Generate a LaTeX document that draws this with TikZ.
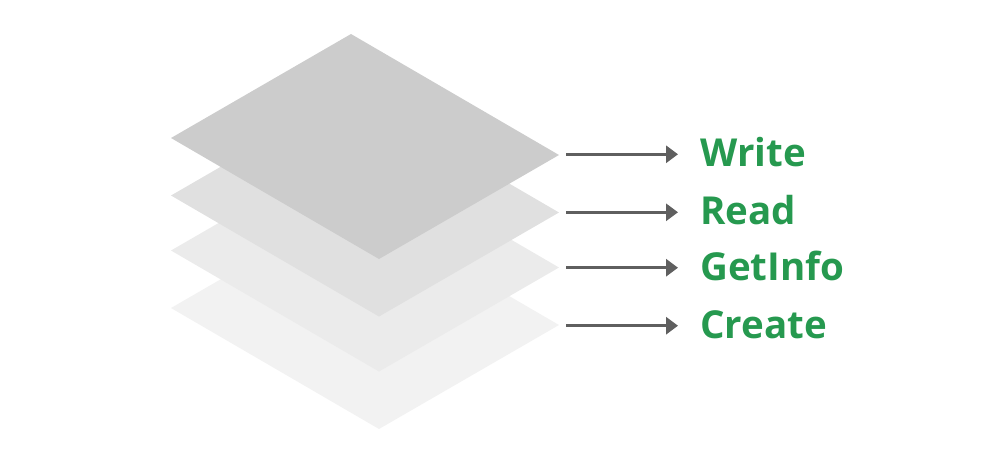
\documentclass[tikz,border=0pt]{standalone}
\usepackage{fontspec}
\setmainfont{Open Sans}
\usetikzlibrary{arrows.meta}
\definecolor{layerA}{HTML}{CCCCCC}
\definecolor{layerB}{HTML}{E0E0E0}
\definecolor{layerC}{HTML}{EBEBEB}
\definecolor{layerD}{HTML}{F2F2F2}
\definecolor{opgreen}{HTML}{26994F}
\definecolor{arrowgray}{HTML}{5F5F5F}
\tikzset{
  oplabel/.style={anchor=base west,inner sep=0pt,text=opgreen,
    font=\fontsize{38.5}{46}\selectfont\bfseries},
  oparrow/.style={draw=arrowgray,line width=3pt,
    -{Triangle[length=12pt,width=17pt]}}
}
\begin{document}
\begin{tikzpicture}[x=1pt,y=-1pt]
\useasboundingbox (0,0) rectangle (1000,464);
% layers, bottom first
\begin{scope}[shift={(0,170)}]
  \coordinate (t4) at (351,34);
  \coordinate (l4) at (171,138);
  \coordinate (b4) at (379,259);
  \coordinate (r4) at (559,155);
  \fill[layerD] (t4) -- (r4) -- (b4) -- (l4) -- cycle;
\end{scope}
\begin{scope}[shift={(0,112.5)}]
  \coordinate (t3) at (351,34);
  \coordinate (l3) at (171,138);
  \coordinate (b3) at (379,259);
  \coordinate (r3) at (559,155);
  \fill[layerC] (t3) -- (r3) -- (b3) -- (l3) -- cycle;
\end{scope}
\begin{scope}[shift={(0,57.5)}]
  \coordinate (t2) at (351,34);
  \coordinate (l2) at (171,138);
  \coordinate (b2) at (379,259);
  \coordinate (r2) at (559,155);
  \fill[layerB] (t2) -- (r2) -- (b2) -- (l2) -- cycle;
\end{scope}
  \coordinate (t1) at (351,34);
  \coordinate (l1) at (171,138);
  \coordinate (b1) at (379,259);
  \coordinate (r1) at (559,155);
  \fill[layerA] (t1) -- (r1) -- (b1) -- (l1) -- cycle;
% operations
  \node[oplabel] (write)   at (700,166.8) {Write};
  \node[oplabel] (read)    at (700,224.8) {Read};
  \node[oplabel] (getinfo) at (700,280.2) {GetInfo};
  \node[oplabel] (create)  at (700,338.2) {Create};
  \coordinate (s1) at (566,154.3);  \coordinate (e1) at (678,154.3);
  \coordinate (s2) at (566,212.3);  \coordinate (e2) at (678,212.3);
  \coordinate (s3) at (566,267.7);  \coordinate (e3) at (678,267.7);
  \coordinate (s4) at (566,325.7);  \coordinate (e4) at (678,325.7);
  \draw[oparrow] (s1) -- (e1);
  \draw[oparrow] (s2) -- (e2);
  \draw[oparrow] (s3) -- (e3);
  \draw[oparrow] (s4) -- (e4);
\end{tikzpicture}
\end{document}
